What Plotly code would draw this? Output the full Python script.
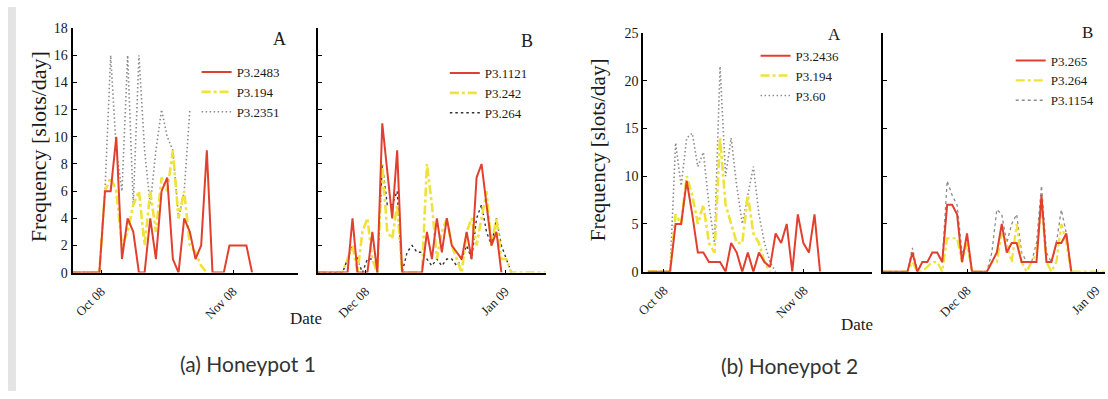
import plotly.graph_objects as go

# ---------------- data (sample index along each date axis) ----------------
# Honeypot 1, panel A
h1a_p3_2483 = [0, 0, 0, 0, 0, 0, 6, 6, 10, 1, 4, 3, 0, 0, 4, 1, 6, 7, 1, 0, 4, 3, 1, 2, 9, 0, 0, 0, 2, 2, 2, 2, 0]
h1a_p3_194 = [0, 0, 0, 0, 0, 0, 6, 7, 6, 2, 3, 5, 6, 2, 6, 3, 7, 6, 9, 4, 6, 2, 1.5, 0.5, 0]
h1a_p3_2351 = [0, 0, 0, 0, 0, 0, 6, 16, 9, 6, 16, 5, 16, 9, 5, 9, 12, 10, 9, 4, 6, 12]
h1a_ticks = [5.35, 28.65]
h1a_ticktext = ["Oct 08", "Nov 08"]

# Honeypot 1, panel B
h1b_p3_1121 = [0, 0, 0, 0, 0, 0, 0, 4, 0, 0, 0, 3, 0, 11, 7.5, 4, 9, 0, 0, 0, 0, 0,
               3, 1, 4, 1.5, 4, 2, 1.5, 1, 3, 1, 7, 8, 5, 2, 3, 0]
h1b_p3_242 = [0, 0, 0, 0, 0, 0, 1, 2, 0, 3, 4, 1, 0, 8, 3, 2.5, 5, 0, 0, 0, 0, 0,
              8, 5, 1, 3, 4, 2, 1, 0, 3, 4, 2, 4, 6, 2, 4, 1, 1, 0, 0, 0, 0, 0, 0, 0, 0]
h1b_p3_264 = [0, 0, 0, 0, 0, 0, 1, 2, 1, 0, 1, 1, 0, 8, 5, 5, 6, 0, 1.5, 2, 1.5, 1.5,
              1, 0.5, 1, 0.5, 1, 1, 0.5, 1, 2, 1, 4, 5, 3, 2, 4, 2, 1, 0]
h1b_ticks = [9.6, 37.8]
h1b_ticktext = ["Dec 08", "Jan 09"]

# Honeypot 2, panel A
h2a_p3_2436 = [0, 0, 0, 0, 0, 5, 5, 9.5, 6, 2, 2, 1, 1, 1, 0, 3, 2, 0, 2, 0, 2, 1, 0.5, 4, 3, 5, 0, 6, 3, 2, 6, 0]
h2a_p3_194 = [0, 0, 0, 0, 0, 6, 5, 10, 8, 5, 7, 3, 2, 14, 7, 5, 3, 3, 8, 4, 3, 1, 0]
h2a_p3_60 = [0, 0, 0, 0, 0, 13.5, 9, 14, 14.5, 11, 12.5, 7, 3, 21.5, 10, 14, 9, 5, 8, 11, 6, 3, 1, 0]
h2a_ticks = [2.9, 28.1]
h2a_ticktext = ["Oct 08", "Nov 08"]

# Honeypot 2, panel B
h2b_p3_265 = [0, 0, 0, 0, 0, 0, 2, 0, 1, 1, 2, 2, 1, 7, 7, 6, 1, 4, 0, 0, 0, 0,
              1, 2, 5, 2, 3, 3, 1, 1, 1, 1, 8, 1, 1, 3, 3, 4, 0]
h2b_p3_264 = [0, 0, 0, 0, 0, 0, 1, 0, 0, 0.5, 1, 1, 0, 3.5, 3.5, 3.5, 1, 3, 0, 0, 0, 0,
              1, 1, 4, 3, 1, 5, 1, 0, 1, 2, 7, 1, 0, 1, 5, 3, 0, 0, 0, 0, 0, 0, 0, 0]
h2b_p3_1154 = [0, 0, 0, 0, 0, 0, 2.5, 0, 1, 1, 2, 2, 1, 9.5, 8, 7, 2, 3, 0, 0, 0, 0,
               2, 6.5, 6, 3, 5, 6, 2, 1, 1, 3, 9, 2, 1, 3, 6.5, 4, 0]
h2b_ticks = [17.0, 43.0]
h2b_ticktext = ["Dec 08", "Jan 09"]

# ---------------- styling ----------------
W, H = 1108, 399
SERIF = "Liberation Serif"
RED = "#e2402f"
YEL = "#efe23a"
GREY = "#8c8c8c"


def px(x):
    return x / W


def py(y):
    return 1 - y / H


fig = go.Figure()


def add(ax, y, name, color, dash, width, legend, rank):
    fig.add_trace(go.Scatter(
        x=list(range(len(y))), y=y, mode="lines", name=name,
        line=dict(color=color, dash=dash, width=width),
        xaxis="x" + ax, yaxis="y" + ax, legend=legend, legendrank=rank))


# back to front: third series, second, first
add("", h1a_p3_2351, "P3.2351", GREY, "1.5px,2.5px", 1.6, "legend", 3)
add("", h1a_p3_194, "P3.194", YEL, "dashdot", 2.6, "legend", 2)
add("", h1a_p3_2483, "P3.2483", RED, "solid", 2, "legend", 1)

add("2", h1b_p3_264, "P3.264", "#333333", "2.5px,3px", 1.4, "legend2", 3)
add("2", h1b_p3_242, "P3.242", YEL, "dashdot", 2.6, "legend2", 2)
add("2", h1b_p3_1121, "P3.1121", RED, "solid", 2, "legend2", 1)

add("3", h2a_p3_60, "P3.60", GREY, "1.5px,2.5px", 1.6, "legend3", 3)
add("3", h2a_p3_194, "P3.194", YEL, "dashdot", 2.6, "legend3", 2)
add("3", h2a_p3_2436, "P3.2436", RED, "solid", 2, "legend3", 1)

add("4", h2b_p3_1154, "P3.1154", GREY, "3px,3px", 1.3, "legend4", 3)
add("4", h2b_p3_264, "P3.264", YEL, "dashdot", 2.2, "legend4", 2)
add("4", h2b_p3_265, "P3.265", RED, "solid", 2, "legend4", 1)


def xax(dom, rng, tv, tt):
    return dict(domain=[px(dom[0]), px(dom[1])], range=rng, tickvals=tv, ticktext=tt,
                tickangle=-45, showline=True, linecolor="#000", linewidth=2,
                ticks="inside", ticklen=3, tickcolor="#000", showgrid=False, zeroline=False,
                tickfont=dict(family=SERIF, size=13, color="#1a1a1a"), ticklabelstandoff=4)


def yax(dom, rng, dt, labels, anchor):
    return dict(domain=[py(dom[0]), py(dom[1])], range=rng, dtick=dt, showline=True,
                linecolor="#000", linewidth=2, ticks="inside", ticklen=4, tickcolor="#000",
                showgrid=False, zeroline=False, showticklabels=labels, anchor=anchor,
                tickfont=dict(family=SERIF, size=14, color="#1a1a1a"))


h1y = (276, 22)
h2y = (275, 27)

layout = dict(
    width=W, height=H, margin=dict(l=0, r=0, t=0, b=0),
    paper_bgcolor="white", plot_bgcolor="white", showlegend=True,
    xaxis=xax((65, 292), [0.26, 40.1], h1a_ticks, h1a_ticktext),
    yaxis=yax(h1y, [0, 18], 2, True, "x"),
    xaxis2=dict(xax((312, 542), [0, 46], h1b_ticks, h1b_ticktext), anchor="y2"),
    yaxis2=yax(h1y, [0, 18], 2, False, "x2"),
    xaxis3=dict(xax((640, 870), [-0.8, 40.3], h2a_ticks, h2a_ticktext), anchor="y3"),
    yaxis3=yax(h2y, [0, 25], 5, True, "x3"),
    xaxis4=dict(xax((881, 1105), [0, 44.8], h2b_ticks, h2b_ticktext), anchor="y4"),
    yaxis4=yax(h2y, [0, 25], 5, False, "x4"),
)

legfont = dict(family=SERIF, size=13, color="#1a1a1a")
for key, lx, ly in [("legend", 190, 52), ("legend2", 440, 53), ("legend3", 753, 35), ("legend4", 1010, 40)]:
    layout[key] = dict(x=px(lx), y=py(ly), xanchor="left", yanchor="top",
                       bgcolor="rgba(0,0,0,0)", font=legfont, borderwidth=0,
                       tracegroupgap=0, itemwidth=30)

fig.update_layout(**layout)

ann = []


def text(x, y, s, size, family=SERIF, angle=0, color="#1a1a1a"):
    ann.append(dict(x=px(x), y=py(y), xref="paper", yref="paper", text=s, showarrow=False,
                    textangle=angle, font=dict(family=family, size=size, color=color),
                    xanchor="center", yanchor="middle"))


text(31, 145, "Frequency [slots/day]", 22, angle=-90)
text(595, 148, "Frequency [slots/day]", 21, angle=-90)
text(273, 33, "A", 18)
text(523, 35, "B", 18)
text(833, 29, "A", 17)
text(1087, 26, "B", 17)
text(300, 324, "Date", 17)
text(855, 330, "Date", 17)
text(242, 370, "(a) Honeypot 1", 21, family="Lato", color="#333")
text(787, 372, "(b) Honeypot 2", 21, family="Lato", color="#333")
fig.update_layout(annotations=ann)

fig.add_shape(type="rect", xref="paper", yref="paper", x0=0, x1=px(8), y0=0, y1=1,
              fillcolor="#e4e4e4", line_width=0, layer="below")

reset_page = (
    "var s=document.createElement('style');"
    "s.textContent='html,body{margin:0 !important;padding:0 !important;overflow:hidden !important;}"
    "body>div{margin:0 !important;padding:0 !important;}';"
    "document.head.appendChild(s);window.scrollTo(0,0);"
)

fig.write_html("out.html", config={"displayModeBar": False}, post_script=reset_page)
